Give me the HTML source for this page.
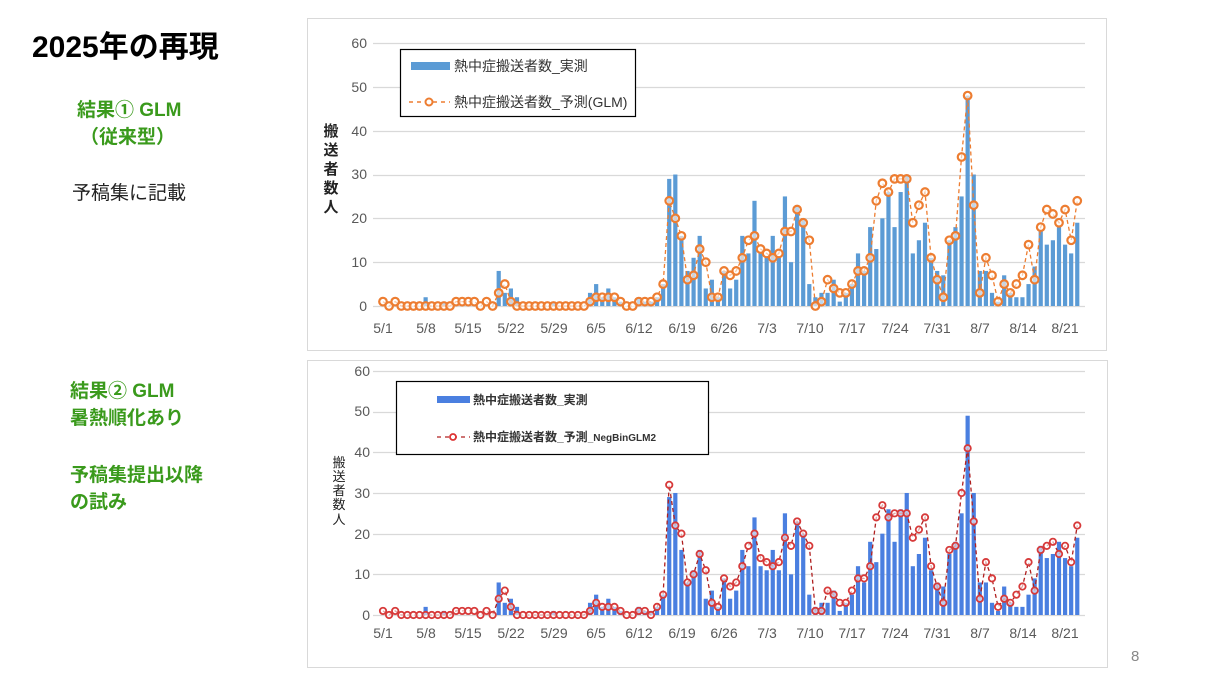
<!DOCTYPE html>
<html><head><meta charset="utf-8">
<style>
html,body{margin:0;padding:0;background:#fff;}
body{width:1230px;height:686px;overflow:hidden;position:relative;font-family:"Liberation Sans","Noto Sans CJK JP",sans-serif;}
.t{position:absolute;white-space:nowrap;}
.g{color:#3a9a1c;font-weight:bold;font-size:19px;}
svg text{font-family:"Liberation Sans","Noto Sans CJK JP",sans-serif;}
</style></head>
<body>
<div class="t" style="left:32px;top:22px;font-size:30px;font-weight:bold;color:#000;">2025年の再現</div>
<div class="t g" style="left:77px;top:95px;">結果① GLM</div>
<div class="t g" style="left:80px;top:122px;">（従来型）</div>
<div class="t" style="left:72px;top:178px;font-size:19px;color:#222;">予稿集に記載</div>
<div class="t g" style="left:70px;top:376px;">結果② GLM</div>
<div class="t g" style="left:70px;top:403px;">暑熱順化あり</div>
<div class="t g" style="left:70px;top:460px;">予稿集提出以降</div>
<div class="t g" style="left:70px;top:487px;">の試み</div>
<div class="t" style="left:1131px;top:648px;font-size:15px;color:#888;">8</div>

<svg id="s" width="1230" height="686" style="position:absolute;left:0;top:0;">
<rect x="307.5" y="18.5" width="799" height="332" fill="none" stroke="#d9d9d9"/>
<rect x="307.5" y="360.5" width="800" height="307" fill="none" stroke="#d9d9d9"/>
<g id="top"></g><g id="bot"></g>
<g font-size="14" fill="#595959" text-anchor="end">
<text x="367" y="311">0</text><text x="367" y="267">10</text><text x="367" y="223">20</text><text x="367" y="179">30</text><text x="367" y="136">40</text><text x="367" y="92">50</text><text x="367" y="48">60</text>
<text x="370" y="620">0</text><text x="370" y="579">10</text><text x="370" y="539">20</text><text x="370" y="498">30</text><text x="370" y="457">40</text><text x="370" y="416">50</text><text x="370" y="376">60</text>
</g>
<g font-size="14" fill="#595959" text-anchor="middle">
<text x="383" y="333">5/1</text><text x="426" y="333">5/8</text><text x="468" y="333">5/15</text><text x="511" y="333">5/22</text><text x="554" y="333">5/29</text><text x="596" y="333">6/5</text><text x="639" y="333">6/12</text><text x="682" y="333">6/19</text><text x="724" y="333">6/26</text><text x="767" y="333">7/3</text><text x="810" y="333">7/10</text><text x="852" y="333">7/17</text><text x="895" y="333">7/24</text><text x="937" y="333">7/31</text><text x="980" y="333">8/7</text><text x="1023" y="333">8/14</text><text x="1065" y="333">8/21</text>
<text x="383" y="638">5/1</text><text x="426" y="638">5/8</text><text x="468" y="638">5/15</text><text x="511" y="638">5/22</text><text x="554" y="638">5/29</text><text x="596" y="638">6/5</text><text x="639" y="638">6/12</text><text x="682" y="638">6/19</text><text x="724" y="638">6/26</text><text x="767" y="638">7/3</text><text x="810" y="638">7/10</text><text x="852" y="638">7/17</text><text x="895" y="638">7/24</text><text x="937" y="638">7/31</text><text x="980" y="638">8/7</text><text x="1023" y="638">8/14</text><text x="1065" y="638">8/21</text>
</g>
<g font-size="15" font-weight="bold" fill="#222" text-anchor="middle">
<text x="331" y="136">搬</text><text x="331" y="155">送</text><text x="331" y="174">者</text><text x="331" y="193">数</text><text x="331" y="212">人</text>
</g>
<g font-size="13" fill="#222" text-anchor="middle">
<text x="339" y="467">搬</text><text x="339" y="481">送</text><text x="339" y="495">者</text><text x="339" y="509">数</text><text x="339" y="524">人</text>
</g>
<!-- legend top -->
<rect x="400.5" y="49.5" width="235" height="67" fill="#fff" stroke="#000" stroke-width="1.2"/>
<rect x="411" y="62" width="39" height="8" fill="#5b9bd5"/>
<text x="454" y="71" font-size="14" fill="#333">熱中症搬送者数_実測</text>
<line x1="409" y1="102" x2="450" y2="102" stroke="#ed7d31" stroke-width="1.5" stroke-dasharray="4,4"/>
<circle cx="429" cy="102" r="3.5" fill="#fff" stroke="#ed7d31" stroke-width="2"/>
<text x="454" y="107" font-size="14" fill="#333">熱中症搬送者数_予測(GLM)</text>
<!-- legend bottom -->
<rect x="396.5" y="381.5" width="312" height="73" fill="#fff" stroke="#000" stroke-width="1.2"/>
<rect x="437" y="396" width="33" height="7" fill="#4a7fe0"/>
<text x="473" y="404" font-size="12" font-weight="bold" fill="#333">熱中症搬送者数_実測</text>
<line x1="437" y1="437" x2="470" y2="437" stroke="#b02020" stroke-width="1.2" stroke-dasharray="4,4"/>
<circle cx="453" cy="437" r="3" fill="#fff" stroke="#d33" stroke-width="1.8"/>
<text x="473" y="441" font-size="12" font-weight="bold" fill="#333">熱中症搬送者数_予測<tspan font-size="10">_NegBinGLM2</tspan></text>
</svg>
<script>
var A=[0,0,0,0,0,0,0,2,0,0,1,0,0,0,0,0,0,0,0,8,3,4,2,0,0,0,0,0,1,0,0,0,0,0,3,5,2,4,2,1,0,0,2,1,1,2,5,29,30,16,8,11,16,4,6,2,8,4,6,16,12,24,12,11,16,11,25,10,23,20,5,2,3,3,6,1,3,5,12,8,18,13,20,26,18,26,30,12,15,19,11,8,7,15,18,25,48,30,8,8,3,1,7,3,2,2,5,9,17,14,15,18,14,12,19];
var P1=[1,0,1,0,0,0,0,0,0,0,0,0,1,1,1,1,0,1,0,3,5,1,0,0,0,0,0,0,0,0,0,0,0,0,1,2,2,2,2,1,0,0,1,1,1,2,5,24,20,16,6,7,13,10,2,2,8,7,8,11,15,16,13,12,11,12,17,17,22,19,15,0,1,6,4,3,3,5,8,8,11,24,28,26,29,29,29,19,23,26,11,6,2,15,16,34,48,23,3,11,7,1,5,3,5,7,14,6,18,22,21,19,22,15,24];
var P2=[1,0,1,0,0,0,0,0,0,0,0,0,1,1,1,1,0,1,0,4,6,2,0,0,0,0,0,0,0,0,0,0,0,0,1,3,2,2,2,1,0,0,1,1,0,2,5,32,22,20,8,10,15,11,3,2,9,7,8,12,17,20,14,13,12,13,19,17,23,20,17,1,1,6,5,3,3,6,9,9,12,24,27,24,25,25,25,19,21,24,12,7,3,16,17,30,41,23,4,13,9,2,4,3,5,7,13,6,16,17,18,15,17,13,22];
var A2=A.slice();A2[56]=9;A2[96]=49;
var NS="http://www.w3.org/2000/svg";
function el(p,n,a){var e=document.createElementNS(NS,n);for(var k in a)e.setAttribute(k,a[k]);p.appendChild(e);return e;}
function chart(g,y0,sc,act,pr,bc,lc,cc,r,bw,sw){
 for(var v=10;v<=60;v+=10){var y=Math.round(y0-v*sc)+0.5;el(g,"line",{x1:373,x2:1085,y1:y,y2:y,stroke:"#d9d9d9","stroke-width":1.2});}
 el(g,"line",{x1:373,x2:1085,y1:y0+0.5,y2:y0+0.5,stroke:"#d9d9d9","stroke-width":1.2});
 for(var i=0;i<act.length;i++){var x=383+6.09*i;if(act[i]>0)el(g,"rect",{x:x-bw/2,y:y0-act[i]*sc,width:bw,height:act[i]*sc,fill:bc});}
 var d="";for(var i=0;i<pr.length;i++){d+=(i?"L":"M")+(383+6.09*i).toFixed(1)+","+(y0-pr[i]*sc).toFixed(1);}
 el(g,"path",{d:d,fill:"none",stroke:lc,"stroke-width":1.3,"stroke-dasharray":"4,3"});
 for(var i=0;i<pr.length;i++)el(g,"circle",{cx:383+6.09*i,cy:y0-pr[i]*sc,r:r,fill:"#fff","fill-opacity":0.6,stroke:cc,"stroke-width":sw});
}
chart(document.getElementById("top"),306,4.383,A,P1,"#5b9bd5","#ed7d31","#ed7d31",3.8,4.2,2.2);
chart(document.getElementById("bot"),615,4.067,A2,P2,"#4a7fe0","#b02020","#d73a3a",3.2,4.2,1.8);
</script>
</body></html>
